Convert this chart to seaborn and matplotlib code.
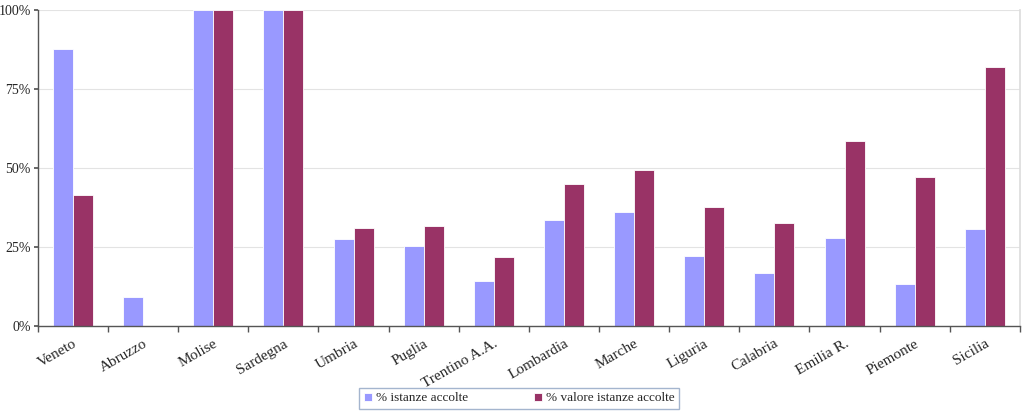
import numpy as np
import pandas as pd
import matplotlib
matplotlib.use("Agg")
import matplotlib.pyplot as plt
import seaborn as sns
from matplotlib.ticker import PercentFormatter, FixedLocator

regioni = ["Veneto", "Abruzzo", "Molise", "Sardegna", "Umbria", "Puglia",
           "Trentino A.A.", "Lombardia", "Marche", "Liguria", "Calabria",
           "Emilia R.", "Piemonte", "Sicilia"]
istanze = [87.7, 9.2, 100, 100, 27.5, 25.3, 14.2, 33.5, 36.0, 22.2, 16.8, 27.8, 13.3, 30.7]
valore = [41.5, 0.0, 100, 100, 31.0, 31.6, 21.8, 44.9, 49.4, 37.7, 32.6, 58.5, 47.1, 82.0]
serie = ["% istanze accolte", "% valore istanze accolte"]
colori = ["#9999FF", "#993366"]

df = pd.DataFrame({"Regione": regioni, serie[0]: istanze, serie[1]: valore})
long_df = df.melt(id_vars="Regione", var_name="Serie", value_name="Valore")

sns.set_theme(style="white")
plt.rcParams["font.family"] = ["Liberation Serif", "DejaVu Serif"]

fig = plt.figure(figsize=(10.24, 4.13), dpi=100)
ax = fig.add_axes([0.037, 0.211, 0.959, 0.765])

sns.barplot(data=long_df, x="Regione", y="Valore", hue="Serie", palette=colori,
            saturation=1, width=0.57, edgecolor="white", linewidth=0.6, ax=ax)

ax.set_ylim(0, 100)
ax.set_xlim(-0.5, len(regioni) - 0.5)
ax.yaxis.set_major_locator(FixedLocator([0, 25, 50, 75, 100]))
ax.yaxis.set_major_formatter(PercentFormatter(decimals=0))
ax.grid(axis="y", color="#e3e3e3", linewidth=0.8)
ax.set_axisbelow(True)
ax.set_xlabel("")
ax.set_ylabel("")

for s in ["left", "bottom"]:
    ax.spines[s].set_color("#555555")
    ax.spines[s].set_linewidth(1.0)
ax.spines["top"].set_visible(False)
ax.spines["right"].set_color("#dddddd")

ax.set_xticks(range(len(regioni)))
ax.set_xticklabels(regioni, rotation=30, ha="right", rotation_mode="anchor", fontsize=11)
ax.tick_params(axis="x", which="major", length=0, pad=8)
ax.set_xticks(np.arange(-0.5, len(regioni)), minor=True)
ax.tick_params(axis="x", which="minor", length=4, color="#555555", bottom=True)
ax.tick_params(axis="y", length=3, color="#555555", left=True, labelsize=10, pad=2)

leg = ax.legend(loc="upper center", bbox_to_anchor=(0.49, -0.196), ncol=2,
                frameon=True, fancybox=False, fontsize=9.5, handlelength=0.6,
                handleheight=0.6, columnspacing=5, borderpad=0.35,
                handletextpad=0.3, borderaxespad=0)
leg.get_frame().set_edgecolor("#8ea3c2")
leg.get_frame().set_linewidth(1.0)

fig.savefig("out.png", dpi=100)
